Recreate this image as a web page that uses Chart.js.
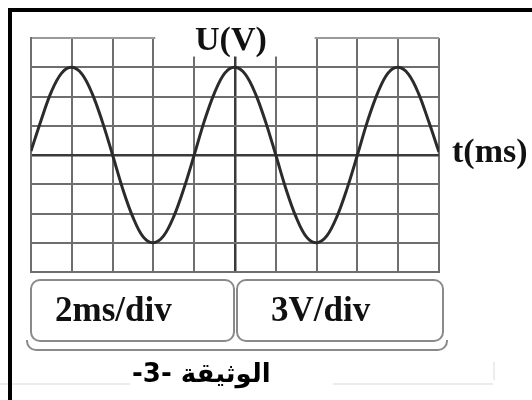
<!DOCTYPE html>
<html>
<head>
<meta charset="utf-8">
<script src="https://cdn.jsdelivr.net/npm/chart.js@4/dist/chart.umd.min.js"></script>
<style>
  html, body { margin: 0; padding: 0; background: #fff; }
  #wrap { position: relative; width: 532px; height: 400px; overflow: hidden; background: #fff; }
  #c { position: absolute; left: 0; top: 0; }
  .frameTop { position: absolute; left: 8px; top: 8px; width: 524px; height: 4px; background: #000; }
  .frameLeft { position: absolute; left: 8px; top: 8px; width: 4px; height: 392px; background: #000; }
  .lbl { position: absolute; font-family: "Liberation Serif", "Times New Roman", serif; font-weight: bold; color: #111; white-space: nowrap; line-height: 1; }
  .box { position: absolute; top: 279px; height: 63px; border: 2px solid #8a8a8a; border-radius: 10px; box-sizing: border-box; background: #fff; }
  .under { position: absolute; left: 26px; top: 340px; width: 422px; height: 11px; border: 2px solid #8a8a8a; border-top: none; border-radius: 0 0 10px 10px; box-sizing: border-box; }
  .cap { position: absolute; font-family: "DejaVu Sans", sans-serif; font-weight: bold; color: #000; white-space: nowrap; line-height: 1; }
  .faint { position: absolute; background: #ececec; }
</style>
</head>
<body>
<div id="wrap">
  <canvas id="c" width="532" height="400"></canvas>
  <div class="faint" style="left:0px; top:383px; width:130px; height:2px;"></div>
  <div class="faint" style="left:333px; top:383px; width:160px; height:2px;"></div>
  <div class="faint" style="left:493px; top:362px; width:2px; height:18px;"></div>
  <div class="frameTop"></div>
  <div class="frameLeft"></div>
  <div class="lbl" id="uv" style="left:195px; top:22px; font-size:34px;">U(V)</div>
  <div class="lbl" id="tms" style="left:452px; top:134px; font-size:34px;">t(ms)</div>
  <div class="under"></div>
  <div class="box" style="left:30px; width:205px;"></div>
  <div class="box" style="left:236px; width:208px;"></div>
  <div class="lbl" style="left:55px; top:292px; font-size:35px;">2ms/div</div>
  <div class="lbl" style="left:271px; top:292px; font-size:35px;">3V/div</div>
  <div class="cap" dir="rtl" style="left:132px; top:360px; font-size:26px;">الوثيقة -3-</div>
</div>
<script>
const timeMs = [0,0.5,1,1.5,2,2.5,3,3.5,4,4.5,5,5.5,6,6.5,7,7.5,8,8.5,9,9.5,10,10.5,11,11.5,12,12.5,13,13.5,14,14.5,15,15.5,16,16.5,17,17.5,18,18.5,19,19.5,20];
const voltage = [0.4,3.6,6.5,8.4,9.0,8.3,6.3,3.4,0,-3.5,-6.4,-8.4,-9.0,-8.3,-6.3,-3.4,0,3.5,6.4,8.4,9.0,8.3,6.3,3.4,0,-3.5,-6.4,-8.4,-9.0,-8.3,-6.3,-3.4,0,3.5,6.4,8.4,9.0,8.3,6.3,3.4,0.3];
// Screen divisions
const xTicks = [0,2,4,6,8,10,12,14,16,18,20];
const yTicks = [-12,-9,-6,-3,0,3,6,9,12];

const gridCol = '#6e6e6e';
const axisCol = '#3a3a3a';

const maskPlugin = {
  id: 'mask',
  afterDatasetsDraw(chart) {
    const {ctx, scales:{x, y}, chartArea} = chart;
    ctx.save();
    ctx.fillStyle = '#fff';
    const x0 = x.getPixelForValue(6) + 2;
    const x1 = x.getPixelForValue(14) - 2;
    const y0 = chartArea.top - 3;
    const y1 = y.getPixelForValue(10.1);
    ctx.fillRect(x0, y0, x1 - x0, y1 - y0);
    ctx.restore();
  }
};

new Chart(document.getElementById('c'), {
  type: 'line',
  data: {
    datasets: [{
      data: timeMs.map((t, i) => ({x: t, y: voltage[i]})),
      borderColor: '#2b2b2b',
      borderWidth: 3,
      pointRadius: 0,
      tension: 0.35,
      fill: false
    }]
  },
  options: {
    responsive: false,
    animation: false,
    devicePixelRatio: 1,
    layout: { padding: { left: 31, right: 93, top: 38, bottom: 128 } },
    plugins: { legend: { display: false }, tooltip: { enabled: false }, title: { display: false } },
    scales: {
      x: {
        type: 'linear', min: 0, max: 20,
        afterBuildTicks: s => { s.ticks = xTicks.map(v => ({value: v})); },
        ticks: { display: false },
        grid: {
          drawTicks: false, tickLength: 0,
          color: c => (c.tick && c.tick.value === 10) ? axisCol : gridCol,
          lineWidth: c => (c.tick && c.tick.value === 10) ? 2.5 : 2
        },
        border: { display: true, color: gridCol, width: 2 }
      },
      y: {
        type: 'linear', min: -12, max: 12,
        afterBuildTicks: s => { s.ticks = yTicks.map(v => ({value: v})); },
        ticks: { display: false },
        grid: {
          drawTicks: false, tickLength: 0,
          color: c => (c.tick && c.tick.value === 0) ? axisCol : (c.tick && c.tick.value === 12 ? '#9a9a9a' : gridCol),
          lineWidth: c => (c.tick && c.tick.value === 0) ? 2.5 : 2
        },
        border: { display: true, color: gridCol, width: 2 }
      }
    }
  },
  plugins: [maskPlugin]
});
</script>
</body>
</html>
